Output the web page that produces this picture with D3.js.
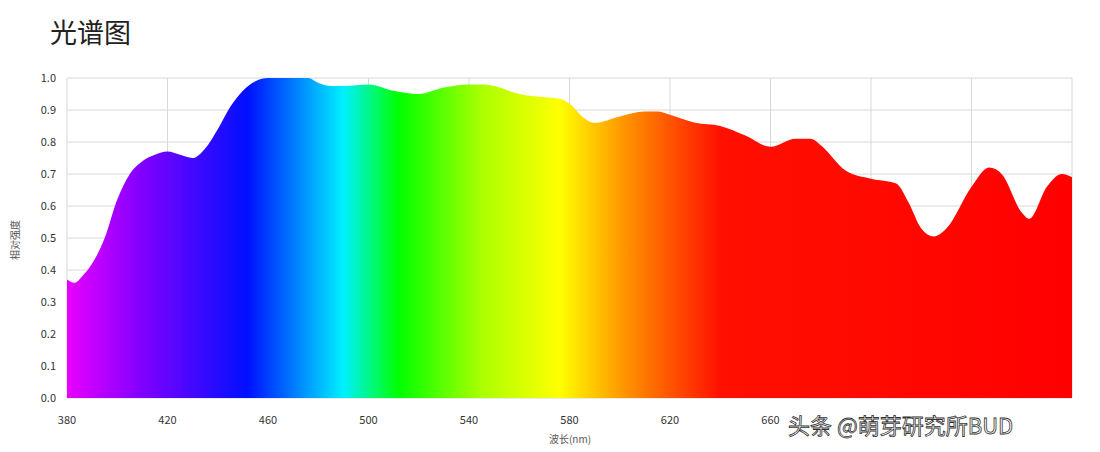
<!DOCTYPE html>
<html><head><meta charset="utf-8">
<script src="https://cdn.jsdelivr.net/npm/d3@7"></script>
<style>body{margin:0;background:#fff;font-family:"Noto Sans CJK SC","Noto Sans",sans-serif}</style>
</head><body><svg id="chart" width="1100" height="452"></svg>
<script>
// wavelength (nm) and relative intensity
const wavelengths = [380,383,386,390,395,400,405,410,415,420,425,430,435,440,445,450,455,460,470,476,480,485,490,500,510,520,530,540,546,550,560,570,576,580,585,590,600,610,615,620,630,640,650,660,670,676,680,690,700,710,715,720,725,730,740,747,752,760,763,770,776,780];
const intensity   = [0.37,0.36,0.38,0.42,0.50,0.62,0.70,0.74,0.76,0.77,0.76,0.75,0.78,0.84,0.91,0.96,0.99,1.0,1.0,1.0,0.985,0.975,0.975,0.98,0.96,0.95,0.97,0.98,0.98,0.975,0.95,0.94,0.935,0.92,0.88,0.86,0.88,0.895,0.895,0.885,0.86,0.85,0.82,0.785,0.81,0.81,0.79,0.71,0.685,0.67,0.61,0.53,0.505,0.53,0.66,0.72,0.70,0.58,0.56,0.66,0.70,0.69];
const xTicks = [380,420,460,500,540,580,620,660,700,740,780];
// labels of 700/740 sit under the watermark in the original
const xTickLabels = [380,420,460,500,540,580,620,660];
const yTicks = [0,0.1,0.2,0.3,0.4,0.5,0.6,0.7,0.8,0.9,1.0];
const spectrumStops = [[380,"#e800ff"],[410,"#8000ff"],[452,"#0010ff"],[490,"#00f0ff"],[512,"#00ff00"],[545,"#aaff00"],[576,"#ffff00"],[605,"#ff8800"],[640,"#ff1000"],[780,"#ff0000"]];

const svg = d3.select("#chart");
const margin = {left: 67, right: 28, top: 78, bottom: 54};
const W = 1100, H = 452;
const x = d3.scaleLinear().domain([380,780]).range([margin.left, W - margin.right]);
const y = d3.scaleLinear().domain([0,1]).range([H - margin.bottom, margin.top]);

svg.append("text").attr("x", 50).attr("y", 43).attr("font-size", 27).attr("fill", "#222").text("光谱图");

// grid
svg.append("g").selectAll("line").data(yTicks).join("line")
  .attr("x1", x(380)).attr("x2", x(780)).attr("y1", d => y(d)).attr("y2", d => y(d))
  .attr("stroke", "#d8d8d8");
svg.append("g").selectAll("line").data(xTicks).join("line")
  .attr("x1", d => x(d)).attr("x2", d => x(d)).attr("y1", y(0)).attr("y2", y(1))
  .attr("stroke", "#d8d8d8");

const grad = svg.append("defs").append("linearGradient").attr("id", "spec")
  .attr("gradientUnits", "userSpaceOnUse").attr("x1", x(380)).attr("x2", x(780)).attr("y1", 0).attr("y2", 0);
grad.selectAll("stop").data(spectrumStops).join("stop")
  .attr("offset", d => (d[0] - 380) / 400).attr("stop-color", d => d[1]);

const area = d3.area().curve(d3.curveMonotoneX)
  .x((d, i) => x(wavelengths[i])).y0(y(0)).y1(d => y(d));
svg.append("path").datum(intensity).attr("d", area).attr("fill", "url(#spec)");

// axes labels
svg.append("g").selectAll("text").data(yTicks).join("text")
  .attr("x", 56).attr("y", d => y(d) + 4).attr("text-anchor", "end")
  .attr("font-size", 11).attr("fill", "#333").text(d => d.toFixed(1));
svg.append("g").selectAll("text").data(xTickLabels).join("text")
  .attr("x", d => x(d)).attr("y", 424).attr("text-anchor", "middle")
  .attr("font-size", 11).attr("fill", "#333").text(d => d);
svg.append("text").attr("x", 570).attr("y", 443).attr("text-anchor", "middle")
  .attr("font-size", 10).attr("fill", "#555").text("波长(nm)");
svg.append("text").attr("transform", "translate(19,240) rotate(-90)").attr("text-anchor", "middle")
  .attr("font-size", 10).attr("fill", "#555").text("相对强度");

// watermark
svg.append("text").attr("x", 788).attr("y", 434).attr("font-size", 22).attr("fill", "#fff")
  .attr("stroke", "#333").attr("stroke-width", 0.8).text("头条 @萌芽研究所BUD");
</script></body></html>
